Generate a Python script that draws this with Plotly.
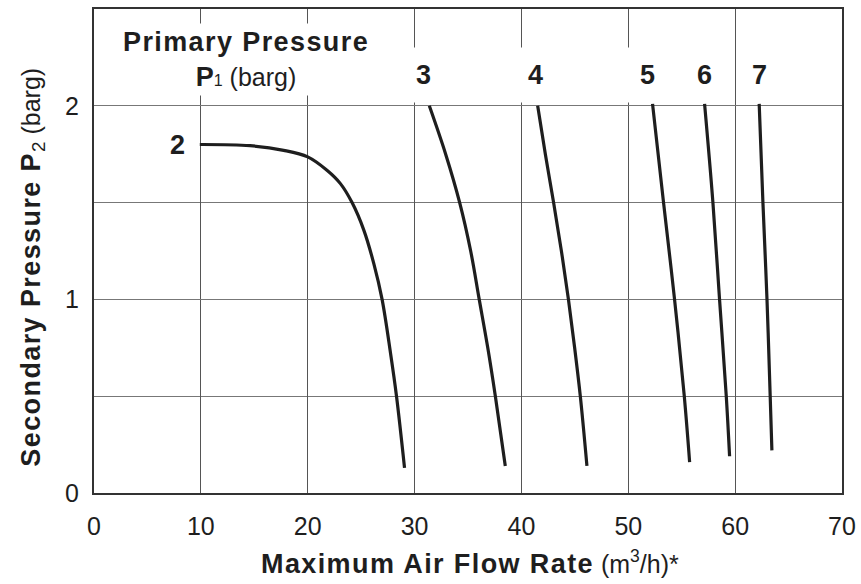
import plotly.graph_objects as go

# Secondary pressure P2 (barg) vs maximum air flow rate (m3/h), per primary pressure P1
p1_labels = ["2", "3", "4", "5", "6", "7"]

flow_2 = [9.9, 14.6, 17.75, 20.0, 21.8, 23.06, 24.15, 25.25, 26.18, 26.96, 27.75, 28.31, 29.06]
p2_2 = [1.80, 1.794, 1.77, 1.736, 1.667, 1.598, 1.50, 1.358, 1.186, 1.00, 0.722, 0.50, 0.13]

flow_3 = [31.38, 32.91, 34.22, 35.25, 36.05, 36.85, 37.56, 38.49]
p2_3 = [2.00, 1.75, 1.50, 1.25, 1.00, 0.75, 0.50, 0.14]

flow_4 = [41.52, 42.24, 43.01, 43.74, 44.40, 44.98, 45.51, 46.13]
p2_4 = [2.00, 1.75, 1.50, 1.25, 1.00, 0.75, 0.50, 0.14]

flow_5 = [52.27, 53.30, 54.33, 55.24, 55.74]
p2_5 = [2.01, 1.50, 1.00, 0.50, 0.16]

flow_6 = [57.14, 57.92, 58.54, 59.17, 59.48]
p2_6 = [2.01, 1.50, 1.00, 0.50, 0.19]

flow_7 = [62.25, 62.60, 62.98, 63.28, 63.44]
p2_7 = [2.01, 1.50, 1.00, 0.50, 0.22]

series = [(flow_2, p2_2), (flow_3, p2_3), (flow_4, p2_4),
          (flow_5, p2_5), (flow_6, p2_6), (flow_7, p2_7)]

# label positions (data coords)
label_x = [7.8, 30.8, 41.3, 51.8, 57.1, 62.3]
label_y = [1.80, 2.16, 2.16, 2.16, 2.16, 2.16]

x_ticks = [0, 10, 20, 30, 40, 50, 60, 70]
y_ticks = [0, 1, 2]

FONT = "Liberation Sans, Arial, Helvetica, sans-serif"
INK = "#1e1e1e"
BOLD = 27
LS = "letter-spacing:1.4px"

fig = go.Figure()
for fx, fy in series:
    fig.add_trace(go.Scatter(x=fx, y=fy, mode="lines",
                             line=dict(color=INK, width=3.2, shape="spline", smoothing=1.0),
                             showlegend=False, hoverinfo="skip"))

annotations = []
for i, (lab, lx, ly) in enumerate(zip(p1_labels, label_x, label_y)):
    annotations.append(dict(
        x=lx, y=ly, xref="x", yref="y", text=f"<b>{lab}</b>", showarrow=False,
        font=dict(family=FONT, size=BOLD, color=INK),
        bgcolor="white" if i > 0 else None, borderpad=12 if i > 0 else 0,
        xanchor="center", yanchor="middle"))

annotations.append(dict(
    x=14.2, y=2.24, xref="x", yref="y",
    text=(f"<b><span style='{LS}'>Primary Pressure</span></b><br>"
          "<b>P</b><span style='font-size:16px'>1</span>"
          "<span style='font-size:25px'> (barg)</span>"),
    showarrow=False, font=dict(family=FONT, size=BOLD, color=INK),
    bgcolor="white", borderpad=3, align="center",
    xanchor="center", yanchor="middle"))

annotations.append(dict(
    x=0.503, y=-0.1435, xref="paper", yref="paper",
    text=(f"<b><span style='{LS}'>Maximum Air Flow Rate</span></b>"
          "<span style='font-size:25px'> (m<sup>3</sup>/h)*</span>"),
    showarrow=False, font=dict(family=FONT, size=BOLD, color=INK),
    xanchor="center", yanchor="middle"))

annotations.append(dict(
    x=-0.082, y=0.467, xref="paper", yref="paper",
    text=(f"<b><span style='{LS}'>Secondary Pressure P</span></b><sub>2</sub>"
          "<span style='font-size:25px'> (barg)</span>"),
    showarrow=False, textangle=-90, font=dict(family=FONT, size=BOLD, color=INK),
    xanchor="center", yanchor="middle"))

fig.update_layout(
    width=861, height=584,
    margin=dict(l=94, r=19, t=9, b=91, autoexpand=False),
    paper_bgcolor="white", plot_bgcolor="white",
    font=dict(family=FONT, size=25, color=INK),
    annotations=annotations,
    xaxis=dict(range=[0, 70], tickvals=x_ticks, ticktext=[str(v) for v in x_ticks],
               showgrid=True, gridcolor="#555555", gridwidth=1,
               showline=True, linecolor="#333333", linewidth=2, mirror=True,
               zeroline=False, ticks="", ticklabelstandoff=10, automargin=False,
               tickfont=dict(family=FONT, size=25, color=INK)),
    yaxis=dict(range=[0, 2.5], tickvals=y_ticks, ticktext=[str(v) for v in y_ticks],
               showgrid=True, gridcolor="#777777", gridwidth=1,
               minor=dict(showgrid=True, gridcolor="#777777", gridwidth=1,
                          tickvals=[0.5, 1.5]),
               showline=True, linecolor="#333333", linewidth=2, mirror=True,
               zeroline=False, ticks="", ticklabelstandoff=8, automargin=False,
               tickfont=dict(family=FONT, size=25, color=INK)),
)

fig.write_html("out.html", config={"displayModeBar": False},
               post_script="document.body.style.margin='0';document.body.style.overflow='hidden';")
